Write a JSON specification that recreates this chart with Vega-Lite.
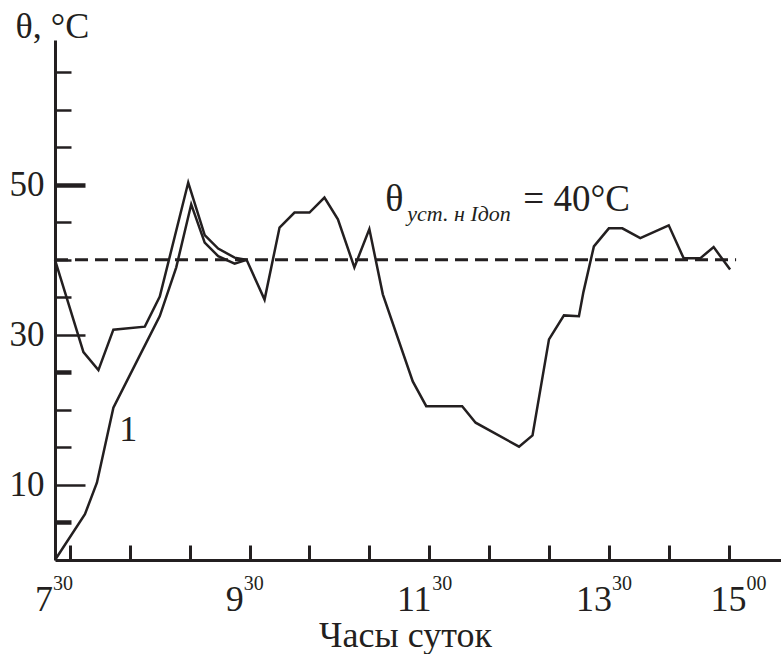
{
  "$schema": "https://vega.github.io/schema/vega-lite/v6.json",
  "width": 726,
  "height": 520,
  "autosize": {"type": "none"},
  "padding": {"left": 55, "top": 40, "right": 0, "bottom": 94},
  "background": "white",
  "config": {"view": {"stroke": null}, "font": "'Liberation Serif', 'Times New Roman', 'DejaVu Serif', serif"},
  "datasets": {
    "curves": [
      {"curve": "a", "t": 450, "v": 0},
      {"curve": "a", "t": 470, "v": 6.1},
      {"curve": "a", "t": 478, "v": 10.3},
      {"curve": "a", "t": 489, "v": 20.3},
      {"curve": "a", "t": 506, "v": 27},
      {"curve": "a", "t": 520, "v": 32.5},
      {"curve": "a", "t": 531, "v": 39},
      {"curve": "a", "t": 541, "v": 47.4},
      {"curve": "a", "t": 550, "v": 42.3},
      {"curve": "a", "t": 559, "v": 40.5},
      {"curve": "a", "t": 570, "v": 39.5},
      {"curve": "a", "t": 578, "v": 40},
      {"curve": "b", "t": 450, "v": 40},
      {"curve": "b", "t": 469, "v": 27.7},
      {"curve": "b", "t": 479, "v": 25.3},
      {"curve": "b", "t": 489, "v": 30.7},
      {"curve": "b", "t": 510, "v": 31.1},
      {"curve": "b", "t": 520, "v": 35.1},
      {"curve": "b", "t": 539, "v": 50.3},
      {"curve": "b", "t": 550, "v": 43.3},
      {"curve": "b", "t": 559, "v": 41.5},
      {"curve": "b", "t": 570, "v": 40.3},
      {"curve": "b", "t": 578, "v": 40},
      {"curve": "b", "t": 590, "v": 34.7},
      {"curve": "b", "t": 600, "v": 44.3},
      {"curve": "b", "t": 610, "v": 46.3},
      {"curve": "b", "t": 620, "v": 46.3},
      {"curve": "b", "t": 630, "v": 48.3},
      {"curve": "b", "t": 639, "v": 45.4},
      {"curve": "b", "t": 650, "v": 39},
      {"curve": "b", "t": 660, "v": 44.1},
      {"curve": "b", "t": 669, "v": 35.4},
      {"curve": "b", "t": 689, "v": 23.8},
      {"curve": "b", "t": 698, "v": 20.5},
      {"curve": "b", "t": 722, "v": 20.5},
      {"curve": "b", "t": 731, "v": 18.3},
      {"curve": "b", "t": 760, "v": 15.1},
      {"curve": "b", "t": 769, "v": 16.6},
      {"curve": "b", "t": 780, "v": 29.4},
      {"curve": "b", "t": 790, "v": 32.6},
      {"curve": "b", "t": 800, "v": 32.5},
      {"curve": "b", "t": 803, "v": 35.7},
      {"curve": "b", "t": 810, "v": 41.8},
      {"curve": "b", "t": 820, "v": 44.2},
      {"curve": "b", "t": 829, "v": 44.2},
      {"curve": "b", "t": 841, "v": 42.9},
      {"curve": "b", "t": 860, "v": 44.6},
      {"curve": "b", "t": 870, "v": 40.2},
      {"curve": "b", "t": 881, "v": 40.2},
      {"curve": "b", "t": 890, "v": 41.7},
      {"curve": "b", "t": 901, "v": 38.7}
    ],
    "xlabels": [
      {"t": 450, "h": "7", "m": "30"},
      {"t": 570, "h": "9", "m": "30"},
      {"t": 690, "h": "11", "m": "30"},
      {"t": 810, "h": "13", "m": "30"},
      {"t": 900, "h": "15", "m": "00"}
    ],
    "limit": [{"t": 450, "t2": 905, "v": 40}],
    "notes": [
      {"t": 680, "v": 46.5, "s": "θ", "sub": "уст. н Iдоп", "rest": "= 40°C"},
      {"t": 499, "v": 15.8, "s": "1", "sub": "", "rest": ""}
    ]
  },
  "layer": [
    {
      "data": {"name": "curves"},
      "mark": {"type": "line", "color": "#231f20", "strokeWidth": 2.5},
      "encoding": {
        "x": {
          "field": "t", "type": "quantitative",
          "scale": {"domain": [450, 935], "nice": false, "zero": false},
          "axis": {
            "values": [460,470,480,490,500,510,520,530,540,550,560,570,580,590,600,610,620,630,640,650,660,670,680,690,700,710,720,730,740,750,760,770,780,790,800,810,820,830,840,850,860,870,880,890,900],
            "labels": false,
            "grid": false,
            "domainColor": "#231f20",
            "domainWidth": 3,
            "tickColor": "#231f20",
            "tickWidth": 3,
            "tickSize": {"condition": {"test": "(datum.value - 450) % 60 === 0", "value": -32}, "value": -15},
            "title": "Часы суток",
            "titleFontSize": 36,
            "titleFontWeight": "normal",
            "titleColor": "#231f20",
            "titleX": 350,
            "titleY": 86,
            "titleAlign": "center",
            "titleBaseline": "alphabetic"
          }
        },
        "y": {
          "field": "v", "type": "quantitative",
          "scale": {"domain": [0, 69.3], "nice": false},
          "axis": {
            "values": [5,10,15,20,25,30,35,40,45,50,55,60,65],
            "labelExpr": "datum.value == 10 || datum.value == 30 || datum.value == 50 ? datum.label : ''",
            "labelFontSize": 35,
            "labelColor": "#231f20",
            "labelPadding": 41,
            "grid": false,
            "domainColor": "#231f20",
            "domainWidth": 3,
            "tickColor": "#231f20",
            "tickSize": {"condition": {"test": "datum.value == 10 || datum.value == 30 || datum.value == 50", "value": -30}, "value": -16},
            "tickWidth": {"condition": {"test": "datum.value == 5 || datum.value == 25 || datum.value == 50", "value": 4.5}, "value": 2.5},
            "title": "θ, °C",
            "titleFontSize": 36,
            "titleFontWeight": "normal",
            "titleColor": "#231f20",
            "titleAngle": 0,
            "titleX": -40,
            "titleY": -3,
            "titleAlign": "left",
            "titleBaseline": "alphabetic"
          }
        },
        "detail": {"field": "curve", "type": "nominal"}
      }
    },
    {
      "data": {"name": "limit"},
      "mark": {"type": "rule", "color": "#231f20", "strokeWidth": 3, "strokeDash": [13, 7]},
      "encoding": {
        "x": {"field": "t", "type": "quantitative"},
        "x2": {"field": "t2"},
        "y": {"field": "v", "type": "quantitative"}
      }
    },
    {
      "data": {"name": "xlabels"},
      "transform": [{"filter": "datum.t > 450"}],
      "mark": {"type": "text", "align": "center", "baseline": "alphabetic", "dy": 51, "fontSize": 36, "color": "#231f20"},
      "encoding": {
        "x": {"field": "t", "type": "quantitative"},
        "y": {"datum": 0},
        "text": {"field": "h"}
      }
    },
    {
      "data": {"name": "xlabels"},
      "transform": [{"filter": "datum.t == 450"}],
      "mark": {"type": "text", "align": "right", "baseline": "alphabetic", "dx": -2, "dy": 51, "fontSize": 36, "color": "#231f20"},
      "encoding": {
        "x": {"field": "t", "type": "quantitative"},
        "y": {"datum": 0},
        "text": {"field": "h"}
      }
    },
    {
      "data": {"name": "xlabels"},
      "transform": [{"filter": "datum.t == 450"}],
      "mark": {"type": "text", "align": "left", "baseline": "alphabetic", "dx": -2, "dy": 30, "fontSize": 20, "color": "#231f20"},
      "encoding": {
        "x": {"field": "t", "type": "quantitative"},
        "y": {"datum": 0},
        "text": {"field": "m"}
      }
    },
    {
      "data": {"name": "xlabels"},
      "transform": [{"filter": "datum.t > 450 && length(datum.h) == 1"}],
      "mark": {"type": "text", "align": "left", "baseline": "alphabetic", "dx": 9, "dy": 30, "fontSize": 20, "color": "#231f20"},
      "encoding": {
        "x": {"field": "t", "type": "quantitative"},
        "y": {"datum": 0},
        "text": {"field": "m"}
      }
    },
    {
      "data": {"name": "xlabels"},
      "transform": [{"filter": "length(datum.h) == 2"}],
      "mark": {"type": "text", "align": "left", "baseline": "alphabetic", "dx": 18, "dy": 30, "fontSize": 20, "color": "#231f20"},
      "encoding": {
        "x": {"field": "t", "type": "quantitative"},
        "y": {"datum": 0},
        "text": {"field": "m"}
      }
    },
    {
      "data": {"name": "notes"},
      "transform": [{"filter": "datum.s == 'θ'"}],
      "mark": {"type": "text", "align": "left", "baseline": "alphabetic", "dx": -14, "fontSize": 38, "color": "#231f20"},
      "encoding": {
        "x": {"field": "t", "type": "quantitative"},
        "y": {"field": "v", "type": "quantitative"},
        "text": {"field": "s"}
      }
    },
    {
      "data": {"name": "notes"},
      "transform": [{"filter": "datum.s == 'θ'"}],
      "mark": {"type": "text", "align": "left", "baseline": "alphabetic", "dx": 8, "dy": 10, "fontSize": 22, "fontStyle": "italic", "color": "#231f20"},
      "encoding": {
        "x": {"field": "t", "type": "quantitative"},
        "y": {"field": "v", "type": "quantitative"},
        "text": {"field": "sub"}
      }
    },
    {
      "data": {"name": "notes"},
      "transform": [{"filter": "datum.s == 'θ'"}],
      "mark": {"type": "text", "align": "left", "baseline": "alphabetic", "dx": 124, "fontSize": 37, "color": "#231f20"},
      "encoding": {
        "x": {"field": "t", "type": "quantitative"},
        "y": {"field": "v", "type": "quantitative"},
        "text": {"field": "rest"}
      }
    },
    {
      "data": {"name": "notes"},
      "transform": [{"filter": "datum.s == '1'"}],
      "mark": {"type": "text", "align": "center", "baseline": "alphabetic", "fontSize": 36, "color": "#231f20"},
      "encoding": {
        "x": {"field": "t", "type": "quantitative"},
        "y": {"field": "v", "type": "quantitative"},
        "text": {"field": "s"}
      }
    }
  ]
}
